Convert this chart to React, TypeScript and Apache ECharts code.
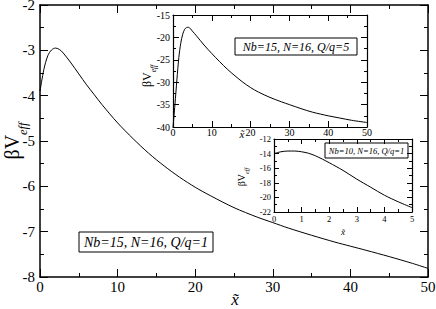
import React, { useEffect, useRef } from "react";
import * as echarts from "echarts";

// Main panel: Nb=15, N=16, Q/q=1
const mainX = [0, 0.5, 1, 1.5, 2, 2.5, 3, 4, 5, 6, 7, 8, 10, 12, 14, 16, 18, 20, 22, 25, 28, 30, 32, 35, 38, 40, 42, 45, 48, 50];
const mainY = [-3.9, -3.42, -3.12, -2.99, -2.95, -2.98, -3.06, -3.28, -3.52, -3.76, -3.98, -4.2, -4.6, -4.95, -5.27, -5.55, -5.8, -6.02, -6.21, -6.47, -6.68, -6.8, -6.92, -7.08, -7.23, -7.32, -7.41, -7.55, -7.7, -7.81];

// Inset 1: Nb=15, N=16, Q/q=5
const in1X = [0, 0.5, 1, 1.5, 2, 2.5, 3, 3.5, 4, 5, 6, 8, 10, 12, 14, 16, 18, 20, 22, 25, 28, 30, 33, 36, 40, 43, 46, 50];
const in1Y = [-40, -35, -29.5, -24.5, -21.3, -19.3, -18.2, -17.8, -17.75, -18.6, -19.6, -21.7, -23.6, -25.4, -27.1, -28.6, -30, -31.2, -32.2, -33.4, -34.4, -35, -35.9, -36.7, -37.5, -38, -38.5, -39];

// Inset 2: Nb=10, N=16, Q/q=1
const in2X = [0, 0.25, 0.5, 0.75, 1, 1.25, 1.5, 1.75, 2, 2.5, 3, 3.5, 4, 4.5, 5];
const in2Y = [-14.0, -13.75, -13.65, -13.65, -13.75, -13.95, -14.3, -14.75, -15.25, -16.3, -17.5, -18.6, -19.7, -20.6, -21.4];

const mainXTicks = { min: 0, max: 50, interval: 10 };
const mainYTicks = { min: -8, max: -2, interval: 1 };
const in1XTicks = { min: 0, max: 50, interval: 10 };
const in1YTicks = { min: -40, max: -15, interval: 5 };
const in2XTicks = { min: 0, max: 5, interval: 1 };
const in2YTicks = { min: -22, max: -12, interval: 2 };

const legendMain = "Nb=15, N=16, Q/q=1";
const legend1 = "Nb=15, N=16, Q/q=5";
const legend2 = "Nb=10, N=16, Q/q=1";

const FONT = "'Liberation Serif', 'Times New Roman', serif";

function pairs(xs: number[], ys: number[]) {
  return xs.map((x, i) => [x, ys[i]]);
}

function axisPair(
  kind: "x" | "y",
  grid: number,
  t: { min: number; max: number; interval: number },
  fontSize: number,
  margin: number,
  majorLen: number,
  minorLen: number,
  lineW: number
) {
  const common = {
    gridIndex: grid,
    type: "value",
    min: t.min,
    max: t.max,
    interval: t.interval,
    splitLine: { show: false },
    axisLine: { show: true, onZero: false, lineStyle: { color: "#000", width: lineW } },
    axisTick: { show: true, inside: true, length: majorLen, lineStyle: { color: "#000", width: 1 } },
    minorTick: { show: true, splitNumber: 2, length: minorLen, lineStyle: { color: "#000", width: 1 } },
    minorSplitLine: { show: false },
  };
  const label: any = {
    show: true,
    color: "#000",
    fontFamily: FONT,
    fontSize,
    margin,
    showMinLabel: true,
    showMaxLabel: true,
    hideOverlap: false,
  };
  if (kind === "y") label.lineHeight = Math.round(fontSize * 0.7);
  const first = {
    ...common,
    position: kind === "x" ? "bottom" : "left",
    axisLabel: label,
  };
  const second = {
    ...common,
    position: kind === "x" ? "top" : "right",
    axisLabel: { show: false },
  };
  return [first, second];
}

function legendBox(x: number, y: number, w: number, h: number, text: string, fontSize: number) {
  return {
    type: "group",
    z: 100,
    children: [
      { type: "rect", shape: { x, y, width: w, height: h }, style: { fill: "#fff", stroke: "#000", lineWidth: 1 } },
      {
        type: "text",
        x: x + w / 2,
        y: y + h / 2 + 0.5,
        style: { text, fontFamily: FONT, fontStyle: "italic", fontSize, fill: "#000", align: "center", verticalAlign: "middle" },
      },
    ],
  };
}

function yTitle(x: number, y: number, size: number) {
  return {
    type: "text",
    z: 100,
    x,
    y,
    rotation: Math.PI / 2,
    style: {
      text: "{a|βV}{b|eff}",
      align: "center",
      verticalAlign: "middle",
      fill: "#000",
      rich: {
        a: { fontFamily: FONT, fontSize: size, fill: "#000", verticalAlign: "bottom" },
        b: { fontFamily: FONT, fontStyle: "italic", fontSize: size * 0.62, fill: "#000", verticalAlign: "bottom", padding: [0, 0, -size * 0.35, 0] },
      },
    },
  };
}

function xTitle(x: number, y: number, size: number) {
  return {
    type: "text",
    z: 100,
    x,
    y,
    style: { text: "x\u0303", fontFamily: FONT, fontStyle: "italic", fontSize: size, fill: "#000", align: "center", verticalAlign: "middle" },
  };
}

export default function App() {
  const ref = useRef<HTMLDivElement>(null);
  useEffect(() => {
    if (!ref.current) return;
    const chart = echarts.init(ref.current, undefined, { renderer: "svg" });
    const xAxes = [
      ...axisPair("x", 0, mainXTicks, 15, 2, 8, 4, 1.5),
      ...axisPair("x", 1, in1XTicks, 10, 0, 6, 3, 1.2),
      ...axisPair("x", 2, in2XTicks, 8.5, 2, 5, 3, 1.2),
    ];
    const yAxes = [
      ...axisPair("y", 0, mainYTicks, 15, 5, 8, 4, 1.5),
      ...axisPair("y", 1, in1YTicks, 10, 3, 6, 3, 1.2),
      ...axisPair("y", 2, in2YTicks, 8.5, 3, 5, 3, 1.2),
    ];
    const line = (xs: number[], ys: number[], xi: number, yi: number) => ({
      type: "line",
      xAxisIndex: xi,
      yAxisIndex: yi,
      data: pairs(xs, ys),
      smooth: 0.3,
      showSymbol: false,
      symbol: "none",
      lineStyle: { color: "#000", width: 1 },
      itemStyle: { color: "#000" },
      clip: true,
    });
    chart.setOption({
      animation: false,
      backgroundColor: "#fff",
      textStyle: { fontFamily: FONT },
      grid: [
        { left: 40, top: 5, width: 388, height: 272, outerBoundsMode: "none", containLabel: false },
        { left: 173, top: 15, width: 194, height: 112, show: true, backgroundColor: "#fff", borderWidth: 0, outerBoundsMode: "none", containLabel: false },
        { left: 274, top: 139, width: 138, height: 73, show: true, backgroundColor: "#fff", borderWidth: 0, outerBoundsMode: "none", containLabel: false },
      ],
      xAxis: xAxes,
      yAxis: yAxes,
      series: [line(mainX, mainY, 0, 0), line(in1X, in1Y, 2, 2), line(in2X, in2Y, 4, 4)],
      graphic: [
        legendBox(79, 232, 134, 20, legendMain, 14),
        legendBox(235, 38, 122, 17, legend1, 12),
        legendBox(325, 143, 83, 15, legend2, 8.5),
        yTitle(12, 141, 20),
        yTitle(147, 76, 12),
        yTitle(241, 177, 10),
        xTitle(235, 299, 17),
        xTitle(242, 134, 11),
        xTitle(343, 232, 9),
      ],
    });
    return () => chart.dispose();
  }, []);
  return <div ref={ref} style={{ position: "absolute", left: 0, top: 0, width: 436, height: 309 }} />;
}
